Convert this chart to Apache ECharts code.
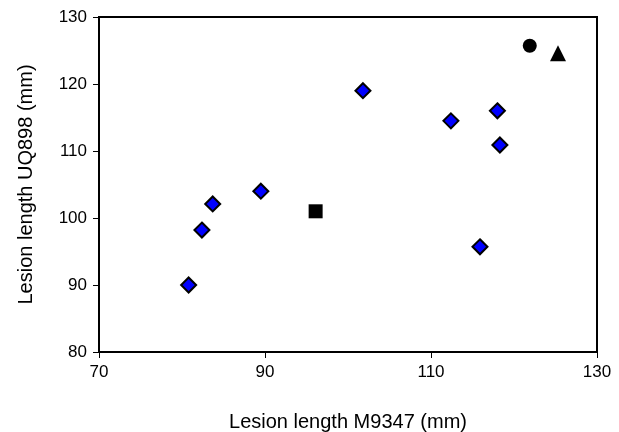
<!DOCTYPE html>
<html><head><meta charset="utf-8">
<script src="https://cdn.jsdelivr.net/npm/echarts@6/dist/echarts.min.js"></script>
<style>html,body{margin:0;padding:0;background:#fff}#c{width:619px;height:432px}</style>
</head><body><div id="c"></div>
<script>
const diamondX = [80.8, 82.4, 83.7, 89.5, 101.8, 112.4, 118.0, 118.3, 115.9];
const diamondY = [90.0, 98.2, 102.1, 104.0, 119.0, 114.5, 116.0, 110.9, 95.7];
const squarePt = [96.1, 101.0];
const circlePt = [121.9, 125.7];
const trianglePt = [125.3, 124.6];
const xTicks = [70, 90, 110, 130];
const yTicks = [80, 90, 100, 110, 120, 130];

const font = 'Liberation Sans, Arial, sans-serif';
const chart = echarts.init(document.getElementById('c'));
chart.setOption({
  animation: false,
  grid: {left: 99, right: 22, top: 17, bottom: 80, containLabel: false, outerBoundsMode: 'none',
         show: true, borderColor: '#000', borderWidth: 2, backgroundColor: 'transparent'},
  xAxis: {
    type: 'value', min: xTicks[0], max: xTicks[xTicks.length-1], interval: 20,
    name: 'Lesion length M9347 (mm)', nameLocation: 'middle', nameGap: 60,
    nameTextStyle: {fontFamily: font, fontSize: 20, color: '#000'},
    axisLine: {lineStyle: {color: '#000', width: 2}},
    axisTick: {show: true, length: 6, lineStyle: {color: '#000', width: 1}},
    axisLabel: {fontFamily: font, fontSize: 17, color: '#000', margin: 12},
    splitLine: {show: false}
  },
  yAxis: {
    type: 'value', min: yTicks[0], max: yTicks[yTicks.length-1], interval: 10,
    name: 'Lesion length UQ898 (mm)', nameLocation: 'middle', nameGap: 63,
    nameTextStyle: {fontFamily: font, fontSize: 20, color: '#000'},
    axisLine: {lineStyle: {color: '#000', width: 2}},
    axisTick: {show: true, length: 6, lineStyle: {color: '#000', width: 1}},
    axisLabel: {fontFamily: font, fontSize: 17, color: '#000', margin: 12},
    splitLine: {show: false}
  },
  series: [
    {type: 'scatter', symbol: 'diamond', symbolSize: 15,
     itemStyle: {color: '#0000ff', borderColor: '#000', borderWidth: 2, opacity: 1},
     data: diamondX.map((x, i) => [x, diamondY[i]])},
    {type: 'scatter', symbol: 'rect', symbolSize: 14, itemStyle: {color: '#000', opacity: 1}, data: [squarePt]},
    {type: 'scatter', symbol: 'circle', symbolSize: 14, itemStyle: {color: '#000', opacity: 1}, data: [circlePt]},
    {type: 'scatter', symbol: 'triangle', symbolSize: 16, itemStyle: {color: '#000', opacity: 1}, data: [trianglePt]}
  ]
});
</script></body></html>
